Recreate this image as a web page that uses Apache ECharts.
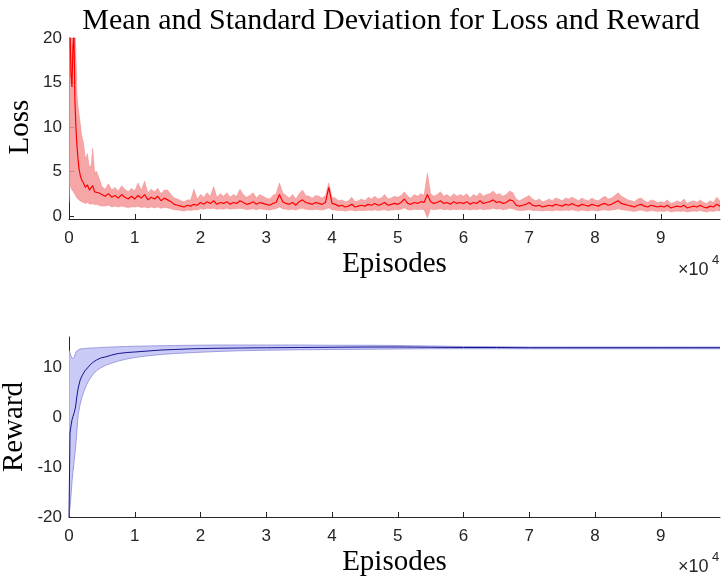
<!DOCTYPE html>
<html>
<head>
<meta charset="utf-8">
<script src="https://cdn.jsdelivr.net/npm/echarts@6/dist/echarts.min.js"></script>
<style>
  html, body { margin: 0; padding: 0; background: #fff; }
  #chart { width: 722px; height: 581px; }
</style>
</head>
<body>
<div id="chart"></div>
<script>
// loss: episodes, mean and the mean +/- std edges
const lossEpisodes = [
  0, 150, 300, 450, 600, 750, 900, 1050, 1200, 1350, 1500, 1700, 1900, 2200, 2500, 2800, 3100, 3400, 3600, 3900, 4200, 4500, 4800,
  5000, 5500, 6000, 6500, 7000, 7500, 8000, 8500, 9000, 9500,
  10000, 10500, 11000, 11500, 12000, 12500, 13000, 13500, 14000, 14500,
  15000, 15500, 16000, 16500, 17000, 17500, 18000, 18500, 19000, 19500,
  20000, 20500, 21000, 21500, 22000, 22500, 23000, 23500, 24000, 24500,
  25000, 25500, 26000, 26500, 27000, 27500, 28000, 28500, 29000, 29500,
  30000, 30500, 31000, 31500, 32000, 32500, 33000, 33500, 34000, 34500,
  35000, 35500, 36000, 36500, 37000, 37500, 38000, 38500, 39000, 39500,
  40000, 40500, 41000, 41500, 42000, 42500, 43000, 43500, 44000, 44500,
  45000, 45500, 46000, 46500, 47000, 47500, 48000, 48500, 49000, 49500,
  50000, 50500, 51000, 51500, 52000, 52500, 53000, 53500, 54000, 54500,
  55000, 55500, 56000, 56500, 57000, 57500, 58000, 58500, 59000, 59500,
  60000, 60500, 61000, 61500, 62000, 62500, 63000, 63500, 64000, 64500,
  65000, 65500, 66000, 66500, 67000, 67500, 68000, 68500, 69000, 69500,
  70000, 70500, 71000, 71500, 72000, 72500, 73000, 73500, 74000, 74500,
  75000, 75500, 76000, 76500, 77000, 77500, 78000, 78500, 79000, 79500,
  80000, 80500, 81000, 81500, 82000, 82500, 83000, 83500, 84000, 84500,
  85000, 85500, 86000, 86500, 87000, 87500, 88000, 88500, 89000, 89500,
  90000, 90500, 91000, 91500, 92000, 92500, 93000, 93500, 94000, 94500,
  95000, 95500, 96000, 96500, 97000, 97500, 98000, 98500, 99000
];
const lossMean = [
  22, 21, 16, 14.5, 19, 20.5, 13, 10, 8, 6.6, 5.4, 4.6, 4.1, 3.7, 3.2, 3.5, 2.9, 3.1, 3.4, 2.7, 2.8, 2.6, 2.5,
  2.4, 2.2, 2.5, 2.1, 2.3, 2.0, 2.4, 2.1, 1.9, 2.2,
  1.9, 2.3, 2.0, 2.4, 1.8, 2.1, 1.9, 2.2, 1.7, 2.0,
  1.8, 1.6, 1.3, 1.2, 1.1, 1.0, 1.2, 1.1, 1.3, 1.2,
  1.5, 1.3, 1.6, 1.4, 1.7, 1.3, 1.5, 1.4, 1.6, 1.3,
  1.5, 1.4, 1.7, 1.5, 1.3, 1.4, 1.6, 1.3, 1.5, 1.4,
  1.3, 1.2, 1.4, 1.5, 2.4, 1.6, 1.4, 1.3, 1.5, 1.2,
  1.6, 1.8, 1.5, 1.4, 1.3, 1.5, 1.4, 1.3, 1.5, 3.2,
  1.4, 1.3, 1.1, 1.2, 1.0, 1.1, 1.3, 1.0, 1.1, 1.2,
  1.1, 1.3, 1.2, 1.4, 1.2, 1.3, 1.5, 1.2, 1.3, 1.4,
  1.3, 1.5, 1.9, 1.4, 1.3, 1.5, 1.4, 1.6, 1.5, 2.4,
  1.6, 1.4, 1.5, 1.7, 1.4, 1.5, 1.3, 1.6, 1.4, 1.5,
  1.4, 1.6, 1.3, 1.5, 1.4, 1.7, 1.4, 1.5, 1.6, 1.8,
  1.5, 1.6, 1.4, 1.5, 1.8, 1.7, 1.2, 1.1, 1.2, 1.3,
  1.5, 1.2, 1.1, 1.2, 1.0, 1.1, 1.2, 1.1, 1.3, 1.2,
  1.1, 1.3, 1.2, 1.4, 1.2, 1.1, 1.3, 1.2, 1.1, 1.3,
  1.2, 1.1, 1.3, 1.4, 1.2, 1.3, 1.5, 1.7, 1.4, 1.3,
  1.2, 1.1, 1.0, 1.2, 1.3, 1.1, 1.0, 1.2, 1.1, 1.0,
  1.1, 1.0, 1.2, 0.9, 1.0, 1.1, 1.0, 1.2, 0.9, 1.0,
  1.1, 1.0, 1.2, 1.0, 0.9, 1.1, 1.0, 1.3, 1.1
];
const lossUpper = [
  24, 24, 24, 24, 24, 24, 22, 18, 14, 12.5, 11.6, 10.5, 9.2, 8.2, 6.4, 7.0, 5.4, 5.8, 7.6, 4.9, 5.0, 4.4, 3.8,
  3.3, 3.0, 3.6, 2.9, 3.2, 2.8, 3.4, 3.0, 2.7, 3.1,
  2.8, 3.7, 2.9, 3.9, 2.6, 3.0, 2.7, 3.1, 2.5, 2.9,
  2.9, 2.4, 2.0, 1.9, 1.7, 1.6, 1.8, 1.8, 3.0, 1.9,
  2.4, 2.1, 2.6, 2.2, 3.3, 2.1, 2.5, 2.2, 2.6, 2.1,
  2.4, 2.2, 3.0, 2.4, 2.1, 2.3, 2.6, 2.0, 2.4, 2.2,
  2.0, 1.9, 2.3, 2.5, 3.7, 2.6, 2.3, 2.0, 2.4, 1.9,
  2.5, 2.9, 2.3, 2.2, 2.0, 2.3, 2.2, 2.0, 2.3, 3.7,
  2.1, 2.0, 1.7, 1.8, 1.6, 1.7, 2.1, 1.6, 1.7, 1.9,
  1.7, 2.1, 1.9, 2.2, 1.9, 2.0, 2.4, 1.9, 2.0, 2.2,
  2.1, 2.3, 2.7, 2.2, 2.0, 2.4, 2.2, 2.5, 2.3, 4.8,
  2.5, 2.2, 2.4, 2.7, 2.2, 2.4, 2.1, 2.5, 2.2, 2.4,
  2.2, 2.5, 2.0, 2.4, 2.2, 2.6, 2.2, 2.4, 2.5, 2.8,
  2.4, 2.5, 2.2, 2.4, 2.8, 2.6, 1.9, 1.7, 1.9, 2.1,
  2.3, 1.9, 1.7, 1.9, 1.6, 1.7, 1.9, 1.7, 2.0, 1.9,
  1.7, 2.0, 1.9, 2.1, 1.9, 1.7, 2.0, 1.8, 1.7, 2.0,
  1.8, 1.7, 2.0, 2.2, 1.9, 2.0, 2.3, 2.6, 2.2, 2.0,
  1.8, 1.7, 1.6, 1.9, 2.0, 1.7, 1.5, 1.8, 1.7, 1.5,
  1.6, 1.5, 1.8, 1.4, 1.5, 1.7, 1.5, 1.9, 1.4, 1.6,
  1.7, 1.5, 1.8, 1.5, 1.4, 1.7, 1.5, 2.1, 1.7
];
const lossLower = [
  1.5, 3.6, 3.2, 2.9, 2.8, 2.6, 2.4, 2.2, 2.0, 1.9, 1.8, 1.7, 1.6, 1.5, 1.4, 1.5, 1.35, 1.3, 1.4, 1.25, 1.3, 1.2, 1.15,
  1.1, 1.1, 1.2, 1.0, 1.1, 1.0, 1.1, 1.0, 0.95, 1.0,
  1.0, 1.05, 0.95, 1.0, 0.9, 1.0, 0.9, 1.0, 0.85, 0.95,
  0.9, 0.8, 0.7, 0.65, 0.6, 0.55, 0.65, 0.6, 0.7, 0.65,
  0.8, 0.75, 0.85, 0.8, 0.85, 0.75, 0.8, 0.75, 0.85, 0.75,
  0.8, 0.8, 0.85, 0.8, 0.7, 0.75, 0.8, 0.7, 0.8, 0.75,
  0.7, 0.65, 0.75, 0.8, 1.0, 0.8, 0.75, 0.7, 0.75, 0.65,
  0.8, 0.85, 0.75, 0.7, 0.7, 0.75, 0.7, 0.65, 0.75, 0.9,
  0.7, 0.65, 0.6, 0.6, 0.55, 0.6, 0.65, 0.55, 0.6, 0.6,
  0.6, 0.65, 0.6, 0.7, 0.6, 0.65, 0.7, 0.6, 0.65, 0.7,
  0.7, 0.75, 0.9, 0.7, 0.65, 0.75, 0.7, 0.75, 0.7, -0.2,
  0.8, 0.7, 0.75, 0.8, 0.7, 0.75, 0.65, 0.75, 0.7, 0.75,
  0.7, 0.75, 0.65, 0.75, 0.7, 0.8, 0.7, 0.75, 0.75, 0.85,
  0.75, 0.8, 0.7, 0.75, 0.85, 0.8, 0.65, 0.6, 0.6, 0.65,
  0.7, 0.6, 0.6, 0.6, 0.55, 0.6, 0.6, 0.55, 0.65, 0.6,
  0.6, 0.65, 0.6, 0.7, 0.6, 0.55, 0.65, 0.6, 0.55, 0.65,
  0.6, 0.55, 0.65, 0.7, 0.6, 0.65, 0.7, 0.8, 0.7, 0.65,
  0.6, 0.55, 0.5, 0.6, 0.65, 0.55, 0.5, 0.6, 0.55, 0.5,
  0.55, 0.5, 0.6, 0.45, 0.5, 0.55, 0.5, 0.55, 0.45, 0.5,
  0.55, 0.5, 0.6, 0.5, 0.45, 0.55, 0.5, 0.6, 0.55
];

// reward
const rewardEpisodes = [0, 150, 300, 450, 600, 800, 1000, 1200, 1400, 1700, 2000, 2400, 2800, 3200, 3700, 4200, 4800, 5500, 6500, 7500, 8800, 10000, 12000, 14000, 16000, 19000, 22500, 26000, 30000, 35000, 40000, 45000, 50000, 55000, 60000, 65000, 70000, 75000, 80000, 85000, 90000, 95000, 99000];
const rewardMean = [-20, -3.2, -1.8, -0.6, 0.1, 0.9, 2.0, 4.2, 5.8, 7.4, 8.3, 9.2, 9.8, 10.4, 11.0, 11.4, 11.8, 12.0, 12.4, 12.7, 12.9, 13.0, 13.2, 13.4, 13.5, 13.65, 13.75, 13.8, 13.85, 13.9, 13.95, 14.0, 14.0, 13.95, 13.9, 13.9, 13.85, 13.85, 13.85, 13.85, 13.85, 13.85, 13.85];
const rewardUpper = [13.3, 12.8, 12.2, 11.8, 11.7, 12.0, 12.8, 13.2, 13.4, 13.6, 13.65, 13.7, 13.75, 13.8, 13.8, 13.85, 13.9, 13.95, 14.0, 14.05, 14.1, 14.15, 14.2, 14.25, 14.3, 14.35, 14.4, 14.4, 14.4, 14.4, 14.35, 14.35, 14.3, 14.2, 14.1, 14.05, 14.0, 14.0, 14.0, 14.0, 14.0, 14.0, 14.0];
const rewardLower = [-20, -18, -15.8, -13, -11, -8.5, -6.2, -2.8, 0.5, 2.6, 4.1, 5.6, 6.8, 7.7, 8.6, 9.3, 9.8, 10.3, 10.8, 11.2, 11.6, 11.9, 12.25, 12.5, 12.7, 12.9, 13.1, 13.25, 13.35, 13.45, 13.5, 13.55, 13.6, 13.65, 13.65, 13.65, 13.65, 13.65, 13.65, 13.65, 13.65, 13.65, 13.65];

const lossTicks = [0, 5, 10, 15, 20];
const rewardTicks = [-20, -10, 0, 10];

const axisColor = '#262626';
const serif = 'Liberation Serif';
const sans = 'Liberation Sans';

function pairs(xs, ys) {
  return xs.map((x, i) => [x, ys[i]]);
}

function xAxisFor(idx) {
  return {
    type: 'value', gridIndex: idx, min: 0, max: 99000, interval: 10000,
    name: 'Episodes', nameLocation: 'middle', nameGap: 31,
    nameTextStyle: { fontFamily: serif, fontSize: 29, color: '#000' },
    axisLine: { onZero: false, lineStyle: { color: axisColor, width: 1 } },
    axisTick: { inside: true, length: 5, lineStyle: { color: axisColor } },
    axisLabel: {
      margin: 11, color: axisColor, fontFamily: sans, fontSize: 17,
      showMaxLabel: false,
      formatter: v => String(v / 10000)
    },
    splitLine: { show: false }
  };
}

function yAxisFor(idx, min, max, ticks) {
  return {
    type: 'value', gridIndex: idx, min: min, max: max,
    axisLine: { show: true, onZero: false, lineStyle: { color: axisColor, width: 1 } },
    axisTick: { show: true, inside: true, length: 5, customValues: ticks, lineStyle: { color: axisColor } },
    axisLabel: { margin: 7, color: axisColor, fontFamily: sans, fontSize: 17, customValues: ticks },
    splitLine: { show: false }
  };
}

// y axis titles, rotated, placed where the figure has them
function yTitle(text, x, y) {
  return {
    type: 'text', x: x, y: y, rotation: Math.PI / 2,
    style: { text: text, font: '29px "Liberation Serif"', fill: '#000', align: 'center', verticalAlign: 'middle' }
  };
}

// filled std band between lower and upper, drawn as one polygon through the axis scales
function band(idx, xs, lower, upper, fill, edge, edgeWidth) {
  return {
    type: 'custom', xAxisIndex: idx, yAxisIndex: idx,
    silent: true, z: 1,
    data: [[xs[0], lower[0]]],
    renderItem: function (params, api) {
      const pts = [];
      for (let i = 0; i < xs.length; i++) pts.push(api.coord([xs[i], upper[i]]));
      for (let i = xs.length - 1; i >= 0; i--) pts.push(api.coord([xs[i], lower[i]]));
      const cs = params.coordSys;
      return {
        type: 'polygon',
        shape: { points: pts },
        style: { fill: fill, stroke: edge, lineWidth: edgeWidth },
        clipPath: { type: 'rect', shape: { x: cs.x, y: cs.y, width: cs.width, height: cs.height } }
      };
    }
  };
}

const chart = echarts.init(document.getElementById('chart'));
chart.setOption({
  animation: false,
  title: {
    text: 'Mean and Standard Deviation for Loss and Reward',
    left: 386, top: 1, textAlign: 'center',
    textStyle: { fontFamily: serif, fontSize: 30, fontWeight: 'normal', color: '#000' }
  },
  grid: [
    { left: 69, top: 38, width: 651, height: 181, outerBoundsMode: 'none', containLabel: false },
    { left: 69, top: 337, width: 651, height: 180, outerBoundsMode: 'none', containLabel: false }
  ],
  xAxis: [xAxisFor(0), xAxisFor(1)],
  yAxis: [
    yAxisFor(0, -0.35, 20, lossTicks),
    yAxisFor(1, -20, 16, rewardTicks)
  ],
  graphic: [
    yTitle('Loss', 20, 127),
    yTitle('Reward', 14, 427),
    { type: 'text', x: 678, y: 261, style: { text: '×10', font: '18px "Liberation Sans"', fill: axisColor } },
    { type: 'text', x: 712, y: 254, style: { text: '4', font: '13px "Liberation Sans"', fill: axisColor } },
    { type: 'text', x: 678, y: 558, style: { text: '×10', font: '18px "Liberation Sans"', fill: axisColor } },
    { type: 'text', x: 712, y: 551, style: { text: '4', font: '13px "Liberation Sans"', fill: axisColor } }
  ],
  series: [
    band(0, lossEpisodes, lossLower, lossUpper, 'rgba(244,150,150,0.85)', 'rgba(242,130,130,0.9)', 0.5),
    {
      type: 'line', xAxisIndex: 0, yAxisIndex: 0, data: pairs(lossEpisodes, lossMean), z: 3,
      showSymbol: false, silent: true, lineStyle: { color: '#ff0000', width: 1.2 }
    },
    band(1, rewardEpisodes, rewardLower, rewardUpper, 'rgba(202,202,246,1)', '#8a8ad8', 0.8),
    {
      type: 'line', xAxisIndex: 1, yAxisIndex: 1, data: pairs(rewardEpisodes, rewardMean), z: 3,
      showSymbol: false, silent: true, lineStyle: { color: '#15158f', width: 1 }
    }
  ]
});
</script>
</body>
</html>
